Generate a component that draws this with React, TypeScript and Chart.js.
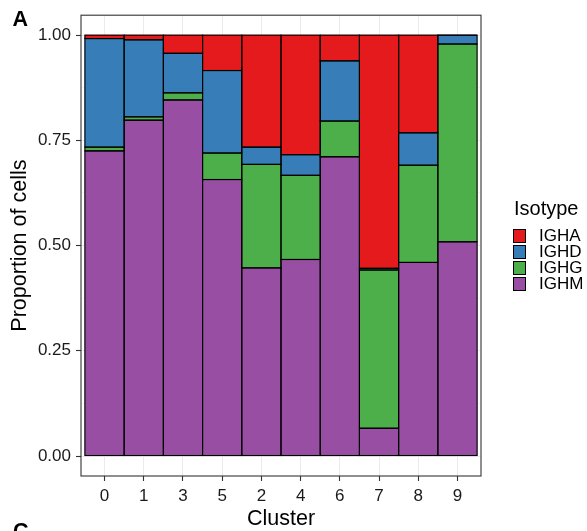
import { useEffect, useRef } from "react";
import { Chart, registerables } from "chart.js";
Chart.register(...registerables);

const categories = ["0", "1", "3", "5", "2", "4", "6", "7", "8", "9"];
const ighm = [0.725, 0.798, 0.846, 0.657, 0.447, 0.467, 0.711, 0.066, 0.46, 0.509];
const ighg = [0.009, 0.008, 0.017, 0.063, 0.246, 0.2, 0.085, 0.376, 0.231, 0.47];
const ighd = [0.258, 0.183, 0.094, 0.196, 0.041, 0.049, 0.143, 0.004, 0.077, 0.021];
const igha = [0.008, 0.011, 0.043, 0.084, 0.266, 0.284, 0.061, 0.554, 0.232, 0.0];
const yMajorTicks = [0, 0.25, 0.5, 0.75, 1];
const yMinorTicks = [0.125, 0.375, 0.625, 0.875];
const legendOrder = ["IGHA", "IGHD", "IGHG", "IGHM"];

const COLORS: Record<string, string> = {
  IGHA: "#E41A1C",
  IGHD: "#377EB8",
  IGHG: "#4DAF4A",
  IGHM: "#984EA3",
};

const FONT = "'Liberation Sans', Arial, Helvetica, sans-serif";

const outlinePlugin = {
  id: "outlines",
  afterDatasetsDraw(chart: any) {
    const ctx = chart.ctx;
    ctx.save();
    ctx.strokeStyle = "#000";
    ctx.lineWidth = 1.1;
    chart.data.datasets.forEach((_: any, di: number) => {
      const meta = chart.getDatasetMeta(di);
      meta.data.forEach((el: any) => {
        const p = el.getProps(["x", "y", "base", "width"], true);
        ctx.strokeRect(p.x - p.width / 2, p.y, p.width, p.base - p.y);
      });
    });
    const a = chart.chartArea;
    ctx.strokeStyle = "#333";
    ctx.lineWidth = 1.1;
    ctx.strokeRect(a.left, a.top, a.right - a.left, a.bottom - a.top);
    ctx.restore();
  },
  afterDraw(chart: any) {
    const ctx = chart.ctx;
    const a = chart.chartArea;
    ctx.save();
    ctx.fillStyle = "#000";
    ctx.font = `bold 21.5px ${FONT}`;
    ctx.textAlign = "left";
    ctx.textBaseline = "alphabetic";
    ctx.fillText("A", 12.5, 25.5);
    ctx.fillText("C", 13, 538);
    ctx.font = `21.5px ${FONT}`;
    ctx.textAlign = "center";
    ctx.fillText("Cluster", (a.left + a.right) / 2, 525);
    ctx.save();
    ctx.translate(25.5, (a.top + a.bottom) / 2);
    ctx.rotate(-Math.PI / 2);
    ctx.fillText("Proportion of cells", 0, 0);
    ctx.restore();
    ctx.textAlign = "left";
    ctx.font = `20px ${FONT}`;
    ctx.fillText("Isotype", 514, 215);
    ctx.font = `17px ${FONT}`;
    ctx.textBaseline = "middle";
    legendOrder.forEach((name, i) => {
      const top = 229 + i * 16;
      ctx.fillStyle = COLORS[name];
      ctx.fillRect(513, top, 13, 14);
      ctx.strokeStyle = "#000";
      ctx.lineWidth = 1;
      ctx.strokeRect(513.5, top + 0.5, 12, 13);
      ctx.fillStyle = "#000";
      ctx.fillText(name, 539, top + 7.5);
    });
    ctx.restore();
  },
};

export default function App() {
  const ref = useRef<HTMLCanvasElement | null>(null);
  useEffect(() => {
    if (!ref.current) return;
    const series: Record<string, number[]> = { IGHM: ighm, IGHG: ighg, IGHD: ighd, IGHA: igha };
    const stackOrder = ["IGHM", "IGHG", "IGHD", "IGHA"];
    const isMinor = (v: number) => yMinorTicks.includes(v);
    const chart = new Chart(ref.current, {
      type: "bar",
      data: {
        datasets: stackOrder.map((name) => ({
          label: name,
          data: series[name].map((v, i) => ({ x: i, y: v })),
          backgroundColor: COLORS[name],
          borderWidth: 0,
          barPercentage: 1,
          categoryPercentage: 1,
        })),
      },
      options: {
        animation: false,
        responsive: false,
        devicePixelRatio: 1,
        layout: { padding: { left: 0, top: 15, right: 106, bottom: 0 } },
        plugins: { legend: { display: false }, tooltip: { enabled: false } },
        scales: {
          x: {
            type: "linear",
            stacked: true,
            offset: false,
            min: -0.6,
            max: 9.6,
            bounds: "data",
            afterBuildTicks: (scale: any) => {
              scale.ticks = categories.map((_, i) => ({ value: i }));
            },
            afterFit: (scale: any) => {
              scale.height = 55;
            },
            border: { display: false },
            grid: {
              offset: false,
              color: "#EBEBEB",
              lineWidth: 1,
              tickLength: 5,
              tickColor: "#333",
              tickWidth: 1.1,
            },
            ticks: {
              autoSkip: false,
              maxRotation: 0,
              padding: 5,
              color: "#1a1a1a",
              font: { family: FONT, size: 17 },
              callback: (v: any) => categories[v as number] ?? "",
            },
          },
          y: {
            type: "linear",
            stacked: true,
            min: -0.0475,
            max: 1.0475,
            bounds: "data",
            afterBuildTicks: (scale: any) => {
              scale.ticks = [...yMajorTicks, ...yMinorTicks]
                .sort((a, b) => a - b)
                .map((v) => ({ value: v }));
            },
            afterFit: (scale: any) => {
              scale.width = 81;
            },
            border: { display: false },
            grid: {
              color: "#EBEBEB",
              lineWidth: (c: any) => (c.tick && isMinor(c.tick.value) ? 0.5 : 1),
              tickLength: 5,
              tickColor: (c: any) => (c.tick && isMinor(c.tick.value) ? "rgba(0,0,0,0)" : "#333"),
              tickWidth: 1.1,
            },
            ticks: {
              autoSkip: false,
              padding: 5,
              color: "#1a1a1a",
              font: { family: FONT, size: 17 },
              callback: (v: any) => (isMinor(v as number) ? "" : (v as number).toFixed(2)),
            },
          },
        },
      },
      plugins: [outlinePlugin],
    });
    return () => chart.destroy();
  }, []);
  return (
    <div style={{ position: "fixed", left: 0, top: 0, width: 587, height: 531, background: "#fff" }}>
      <canvas ref={ref} width={587} height={531} style={{ width: 587, height: 531, display: "block" }} />
    </div>
  );
}
